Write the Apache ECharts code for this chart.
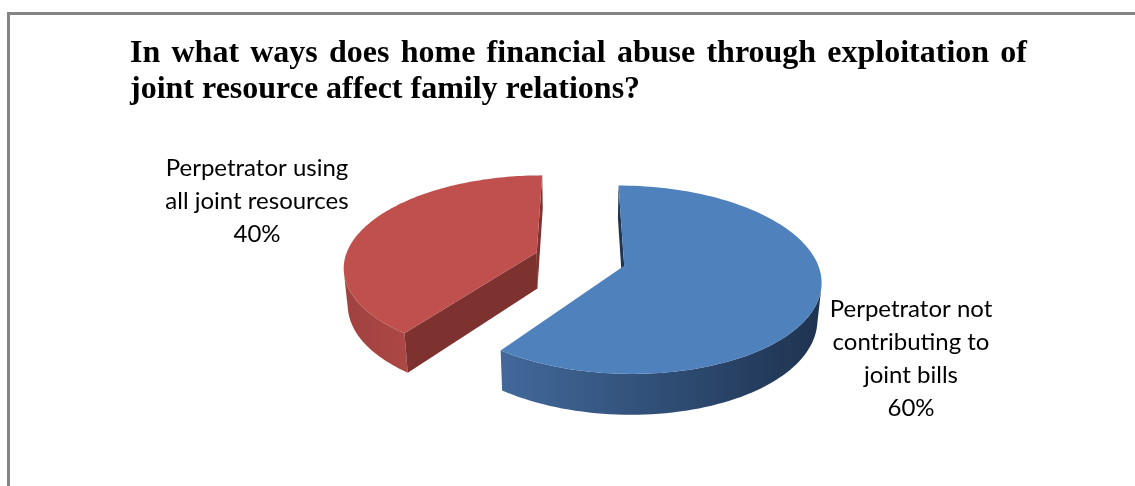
<!DOCTYPE html>
<html>
<head>
<meta charset="utf-8">
<script src="https://cdn.jsdelivr.net/npm/echarts@6/dist/echarts.min.js"></script>
<style>
  html, body { margin: 0; padding: 0; background: #ffffff; }
  #chart { width: 1135px; height: 486px; }
</style>
</head>
<body>
<div id="chart"></div>
<script>
// ---- data ----
const titleLines = [
  'In what ways does home financial abuse through exploitation of',
  'joint resource affect family relations?'
];
const categories = [
  'Perpetrator not\ncontributing to\njoint bills',
  'Perpetrator using\nall joint resources'
];
const values = [60, 40];
const colors = ['#4F81BD', '#C0504D'];

// ---- 3D pie layout (projection) ----
const VIEW = {
  cx: 580, cy: 259,
  R: 192,
  h: 42,
  tilt: 28 * Math.PI / 180,
  dist: 1156,
  explode: 46
};
const shade = {
  '#4F81BD': { side: ['#42699B', '#1E3350'], cut: '#1F3552' },
  '#C0504D': { side: ['#A04240', '#AC4845'], cut: '#7E3230' }
};
const labelPos = [[911, 359], [257, 201]];
const TITLE = { left: 130, right: 1027, base1: 65, lead: 36, size: 32,
  family: '"Liberation Serif", "Times New Roman", serif' };

const chart = echarts.init(document.getElementById('chart'), null, { renderer: 'canvas' });
const total = values.reduce((a, b) => a + b, 0);
const sa = Math.sin(VIEW.tilt), ca = Math.cos(VIEW.tilt);
const cam = [0, VIEW.dist * sa, VIEW.dist * ca];

function project(p) {
  const dv = p[1] * sa + p[2] * ca;
  const sc = VIEW.dist / (VIEW.dist - dv);
  return [VIEW.cx + p[0] * sc, VIEW.cy - (p[1] * ca - p[2] * sa) * sc];
}
function facing(n, p) {
  return n[0] * (cam[0] - p[0]) + n[1] * (cam[1] - p[1]) + n[2] * (cam[2] - p[2]) > 0;
}

function renderItem(params, api) {
  const i = params.dataIndex;
  const v = api.value(1);
  let before = 0;
  for (let k = 0; k < i; k++) before += values[k];
  const t0 = before / total * Math.PI * 2;
  const t1 = (before + v) / total * Math.PI * 2;
  const tm = (t0 + t1) / 2;
  const ox = VIEW.explode * Math.sin(tm), oz = -VIEW.explode * Math.cos(tm);
  const R = VIEW.R, h = VIEW.h;
  const P = (t, y) => [ox + R * Math.sin(t), y, oz - R * Math.cos(t)];
  const col = colors[i];
  const sh = shade[col];
  const children = [];
  const N = 120;

  let top = [], bot = [];
  for (let s = 0; s <= N; s++) {
    const t = t0 + (t1 - t0) * s / N;
    const p = P(t, 0);
    const n = [Math.sin(t), 0, -Math.cos(t)];
    if (facing(n, p)) {
      top.push(project(p));
      bot.push(project(P(t, -h)));
    }
  }
  if (top.length > 1) {
    children.push({
      type: 'polygon',
      shape: { points: top.concat(bot.reverse()) },
      style: {
        fill: { type: 'linear', x: 0, y: 0, x2: 1, y2: 0,
          colorStops: [{ offset: 0, color: sh.side[0] }, { offset: 1, color: sh.side[1] }] },
        stroke: null
      }
    });
  }
  const cuts = [[t0, t0 - Math.PI / 2], [t1, t1 + Math.PI / 2]];
  cuts.forEach(([t, nt]) => {
    const n = [Math.sin(nt), 0, -Math.cos(nt)];
    const c0 = [ox, 0, oz], e0 = P(t, 0);
    const mid = [(c0[0] + e0[0]) / 2, -h / 2, (c0[2] + e0[2]) / 2];
    if (facing(n, mid)) {
      children.push({
        type: 'polygon',
        shape: { points: [project(c0), project(e0), project(P(t, -h)), project([ox, -h, oz])] },
        style: { fill: sh.cut, stroke: null }
      });
    }
  });
  const face = [project([ox, 0, oz])];
  for (let s = 0; s <= N; s++) face.push(project(P(t0 + (t1 - t0) * s / N, 0)));
  children.push({ type: 'polygon', shape: { points: face }, style: { fill: col, stroke: null } });

  children.push({
    type: 'text',
    style: {
      text: categories[i] + '\n' + Math.round(v / total * 100) + '%',
      x: labelPos[i][0], y: labelPos[i][1],
      align: 'center', verticalAlign: 'middle',
      fontFamily: 'Lato', fontSize: 24, lineHeight: 33, fill: '#000000'
    }
  });
  return { type: 'group', children };
}

// justified title (first line spread to the full width, last line natural)
function titleGraphics() {
  const ctx = document.createElement('canvas').getContext('2d');
  const font = 'bold ' + TITLE.size + 'px ' + TITLE.family;
  ctx.font = font;
  const els = [];
  const mk = (txt, x, base) => ({
    type: 'text', x: x, y: base - TITLE.size * 0.34, silent: true,
    style: { text: txt, font: font, fill: '#000000', align: 'left', verticalAlign: 'middle' }
  });
  const words = titleLines[0].split(' ');
  const widths = words.map(w => ctx.measureText(w).width);
  const sum = widths.reduce((a, b) => a + b, 0);
  const gap = (TITLE.right - TITLE.left - sum) / (words.length - 1);
  let x = TITLE.left;
  words.forEach((w, k) => { els.push(mk(w, x, TITLE.base1)); x += widths[k] + gap; });
  els.push(mk(titleLines[1], TITLE.left, TITLE.base1 + TITLE.lead));
  return els;
}

chart.setOption({
  animation: false,
  backgroundColor: '#ffffff',
  graphic: [{
    type: 'rect', shape: { x: 8.5, y: 13.5, width: 1200, height: 600 },
    style: { fill: null, stroke: '#858585', lineWidth: 3 }, silent: true, z: -1
  }].concat(titleGraphics()),
  series: [{
    type: 'custom',
    coordinateSystem: 'none',
    renderItem: renderItem,
    data: values.map((v, i) => [i, v])
  }]
});
</script>
</body>
</html>
